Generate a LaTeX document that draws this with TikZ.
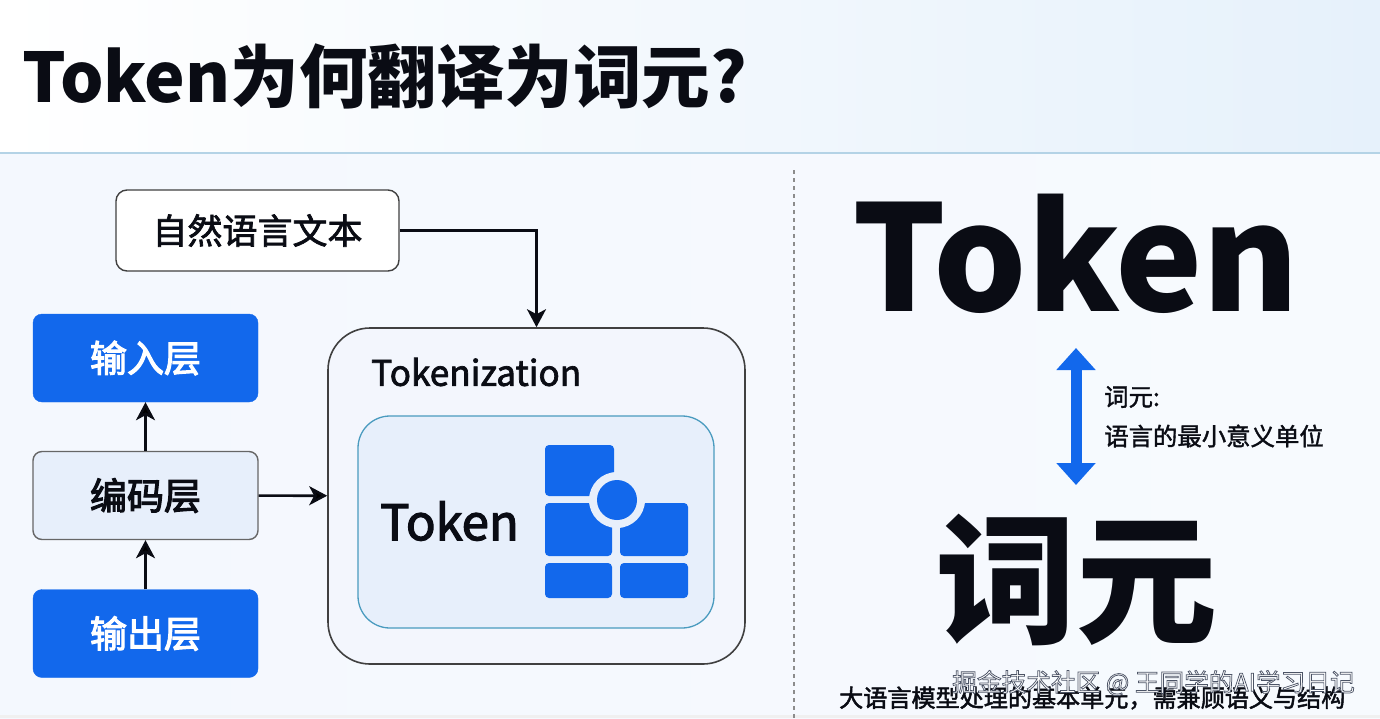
\documentclass[tikz,border=0pt]{standalone}
\usepackage{fontspec}
\setmainfont{Noto Sans CJK SC}
\usepackage{tikz}
\usetikzlibrary{arrows}
\usetikzlibrary{arrows.meta}
\definecolor{tokenblue}{HTML}{1268EC}
\definecolor{inkdark}{HTML}{0A0C14}
\definecolor{panelblue}{HTML}{E7EFFB}
\definecolor{headerright}{HTML}{E6F1FB}
\definecolor{paleleft}{HTML}{F4F8FE}
\definecolor{paleright}{HTML}{F7FAFE}
\definecolor{rulecolor}{HTML}{B4D3E6}
\definecolor{outerfill}{HTML}{F3F6FD}
\definecolor{innerline}{HTML}{4A9BBF}
\newcommand{\fs}[1]{\fontsize{#1}{#1}\selectfont}
\tikzset{
  layerbox/.style={
    draw=tokenblue,fill=tokenblue,text=white,rounded corners=9pt,
    minimum width=225pt,minimum height=88pt,font=\fs{37}\addfontfeature{FakeBold=3},
  },
  flow/.style={->,>={Stealth[length=18pt,width=19pt,inset=5pt]},line width=2.6pt,draw=inkdark},
  iconpiece/.style={fill=tokenblue,rounded corners=4pt},
}
\begin{document}
\begin{tikzpicture}[x=1pt,y=-1pt,every node/.style={inner sep=0pt,text=inkdark}]
      \useasboundingbox (0,0) rectangle (1380,718);
      \shade[left color=white,right color=headerright] (0,0) rectangle (1380,153);
      \shade[left color=paleleft,right color=paleright] (0,153) rectangle (1380,718);
      \fill[black!6] (0,715) rectangle (1380,718);
      \draw[draw=rulecolor,line width=1.2pt] (0,153) -- (1380,153);
      \draw[draw=black!45,line width=1.2pt,dash pattern=on 4pt off 4pt] (794,170) -- (794,718);

      \node[anchor=west,font=\fs{68.5}\bfseries] (title) at (22,76) {Token为何翻译为词元?};

      \node[draw=black!75,fill=white,line width=1.4pt,rounded corners=11pt,minimum width=283pt,minimum height=81pt,font=\fs{35}\addfontfeature{FakeBold=2}] (source) at (257.5,230.5) {自然语言文本};

      \node[layerbox] (inputlayer) at (145.5,358) {输入层};
      \node[layerbox,draw=black!60,line width=1.4pt,fill=panelblue,text=inkdark] (encoder) at (145.5,495.5) {编码层};
      \node[layerbox] (outputlayer) at (145.5,633.5) {输出层};

      \node[draw=black!75,fill=outerfill,line width=1.6pt,rounded corners=42pt,minimum width=417pt,minimum height=336pt] (tokenization) at (536.5,496) {};
      \node[anchor=west,font=\fs{35.2}\addfontfeature{FakeBold=2}] (toklabel) at (371,372) {Tokenization};
      \node[draw=innerline,fill=panelblue,line width=1.3pt,rounded corners=32pt,minimum width=356pt,minimum height=212pt] (inner) at (536,522) {};
      \node[anchor=west,font=\fs{49}\addfontfeature{FakeBold=2.5}] (token) at (380,521) {Token};

      \fill[iconpiece] (545,445) rectangle (614,496);
      \fill[iconpiece] (545,503) rectangle (612,556);
      \fill[iconpiece] (620,503) rectangle (688,556);
      \fill[iconpiece] (545,563) rectangle (612,598);
      \fill[iconpiece] (620,563) rectangle (688,598);
      \fill[panelblue] (617,500) circle (28);
      \fill[tokenblue] (617,500) circle (20);

      \path[flow] (source.east) -| (tokenization.north);
      \path[flow] (encoder) edge (inputlayer);
      \path[flow] (outputlayer) edge (encoder);
      \path[flow] (encoder) edge (tokenization);

      \node[font=\fs{147}\bfseries] (bigtoken) at (1076,254) {Token};
      \node[font=\fs{141}\bfseries] (bigword) at (1076,580) {词元};
      \coordinate (meantop) at (1076,348);
      \coordinate (meanbottom) at (1076,485);
      \draw[{Triangle[width=38pt,length=22pt]}-{Triangle[width=38pt,length=22pt]},draw=tokenblue,line width=11pt] (meantop) -- (meanbottom);
      \node[anchor=west,font=\fs{24.4}\addfontfeature{FakeBold=1.5}] (meaning1) at (1104,397) {词元:};
      \node[anchor=west,font=\fs{24.4}\addfontfeature{FakeBold=1.5}] (meaning2) at (1104,436) {语言的最小意义单位};

      \node[anchor=west,font=\fs{24.1}\addfontfeature{FakeBold=2}] (caption) at (839,698) {大语言模型处理的基本单元，需兼顾语义与结构};
      \node[anchor=west,font=\fs{24.7}\addfontfeature{FakeBold=3},text=white] (watermark) at (952,683) {\special{pdf:code 0.3 0.33 0.4 RG}掘金技术社区 @ 王同学的AI学习日记};
\end{tikzpicture}
\end{document}
